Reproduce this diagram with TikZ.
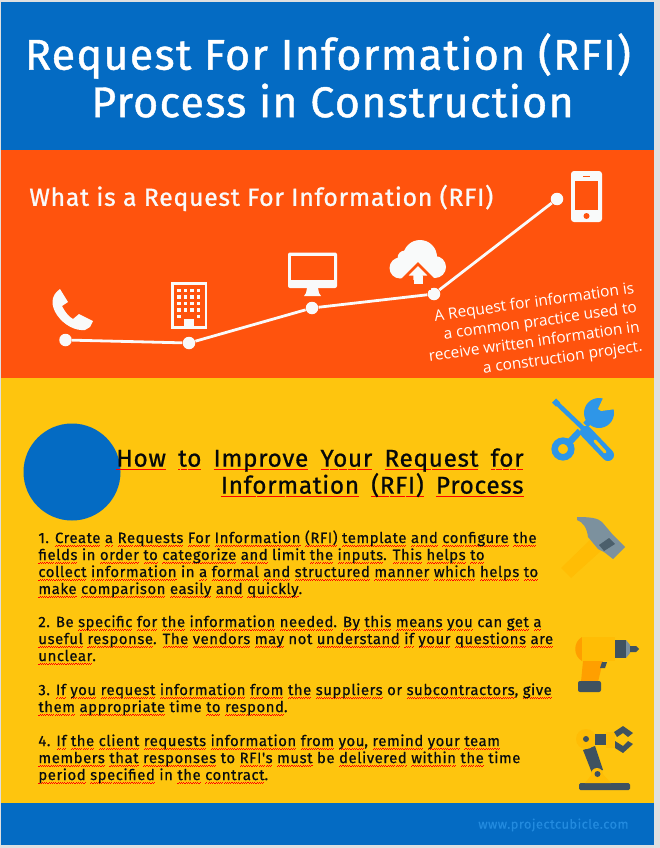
\documentclass[tikz,border=0pt]{standalone}
\usepackage{fontspec}
\setmainfont{Fira Sans}
\newfontfamily\titlefont[LetterSpace=3,FakeBold=1]{Fira Sans}
\newfontfamily\headfont[LetterSpace=3,FakeBold=0.8,WordSpace=1.7]{Fira Sans}
\newfontfamily\bodyfont[LetterSpace=3.5,FakeBold=0.45]{Fira Sans}
\newfontfamily\notefont{Open Sans}
\definecolor{rfiblue}{HTML}{046BC3}
\definecolor{rfiorange}{HTML}{FF530D}
\definecolor{rfiyellow}{HTML}{FEC50E}
\definecolor{rfiwhite}{HTML}{F9FAFA}
\definecolor{rfitool}{HTML}{2E96E8}
\definecolor{rfigrey}{HTML}{7C919E}
\definecolor{rfidark}{HTML}{3F5260}
\definecolor{rfiamber}{HTML}{FF9F00}
\definecolor{rfihandle}{HTML}{FFBD05}
\newcommand{\wv}[1]{\leavevmode\setbox0=\hbox{#1}\rlap{\lower3.4pt\hbox to\wd0{\color{red}\xleaders\hbox{\vrule height .7pt depth 0pt width 1.1pt\vrule height 1.4pt depth -.7pt width 1.1pt}\hfil}}\box0\relax}

\begin{document}
\begin{tikzpicture}[x=1pt, y=-1pt, thick,
	dot/.style={draw=none,fill=rfiwhite,circle,inner sep=0pt,minimum size=12.5pt},
	para/.style={anchor=north west,align=left,inner sep=0pt,text=black!85!rfidark,font=\bodyfont\fontsize{14.95}{17}\selectfont},
	icon/.style={fill=rfiwhite,draw=none}]
	\useasboundingbox (0,0) rectangle (660,848);
	\fill[black!12] (0,0) rectangle (660,848);
	% bands
	\fill[rfiblue] (1,2) rectangle (654,150);
	\fill[rfiorange] (1,150) rectangle (654,378);
	\fill[rfiyellow] (1,378) rectangle (654,803);
	\fill[rfiblue] (1,803) rectangle (654,845);
	\fill[rfiblue] (72,472) circle (48.5);

	\node[text=white,font=\titlefont\fontsize{43}{47.5}\selectfont,align=center,inner sep=0pt] (title) at (328,75.5) {Request For Information (RFI)\\\hspace{9pt}Process in Construction};
	\node[text=rfiwhite,font=\titlefont\fontsize{24.8}{28}\selectfont,anchor=west,inner sep=0pt] (what) at (29,198) {What is a Request For Information (RFI)};
	\node[text=white,font=\notefont\fontsize{15.4}{19.6}\selectfont,align=right,rotate=8,inner sep=0pt] (note) at (533,333) {A Request for information is\\a common practice used to\\receive written information in\\a construction project.};

	% line through the icons
	\node[dot] (1) at (65.5,340) {};
	\node[dot] (2) at (189,343) {};
	\node[dot] (3) at (312,308) {};
	\node[dot] (4) at (434,294) {};
	\node[dot] (5) at (557,199) {};
	\draw[rfiwhite,line width=2.8pt] (1) -- (2) -- (3) -- (4) -- (5);

	% handset
	\fill[icon] (60,289) .. controls (50,296) and (51,306) .. (57,315) .. controls (64,325) and (75,331) .. (85,330) -- (90,327) -- (93,321) -- (79,314) -- (73,319) .. controls (69,317) and (65,312) .. (62,306) -- (68,302) -- cycle;
	% building
	\fill[icon] (171,282) rectangle (207,328.5);
	\fill[rfiorange] (173.5,284.5) rectangle (204.5,326);
	\foreach \yy in {290.5,297,303.5,310}
		\foreach \xx in {179,185.5,192,198.5}
			\fill[icon] (\xx-1.6,\yy-1.6) rectangle (\xx+1.6,\yy+1.6);
	\fill[icon] (177.4,314.9) rectangle (180.6,318.1);
	\fill[icon] (196.9,314.9) rectangle (200.1,318.1);
	\fill[icon] (184,319) rectangle (194,327);
	% monitor
	\fill[icon,rounded corners=2pt] (288,252.5) rectangle (337,288);
	\fill[rfiorange] (291,256) rectangle (334,280);
	\fill[icon] (307,288) -- (318,288) -- (319,293) -- (321,296) -- (304,296) -- (306,293) -- cycle;
	% cloud
	\fill[icon] (420,257) circle (17);
	\fill[icon] (405,258) circle (7.5);
	\fill[icon] (400,268) circle (10.5);
	\fill[icon] (435,267) circle (11);
	\fill[icon] (400,266) rectangle (435,278);
	\filldraw[icon,draw=rfiorange,line width=2.6pt,line join=miter] (418,264) -- (431,277) -- (424,277) -- (424,285) -- (412,285) -- (412,277) -- (405,277) -- cycle;
	\fill[rfiorange] (405,280) rectangle (431,290);
	\fill[icon] (413.5,276) rectangle (422.5,283.5);
	% mobile
	\fill[icon,rounded corners=3pt] (571,171) rectangle (602,222);
	\fill[rfiorange] (575,181) rectangle (598,210);
	\fill[rfiorange] (583,175.5) rectangle (590,177);
	\fill[rfiorange] (586.5,216) circle (3);

	\node[font=\headfont\fontsize{24.3}{27}\selectfont,align=right,anchor=north east,inner sep=0pt,text=black!90!rfidark] (head) at (524,448) {\wv{How} \wv{to} \wv{Improve} \wv{Your} \wv{Request} \wv{for}\hspace{6pt}\\\wv{Information} \wv{(RFI)} \wv{Process}};

	\node[para] (step1) at (38,530) {1. \wv{Create} \wv{a} \wv{Requests} \wv{For} \wv{Information} \wv{(RFI)} \wv{template} \wv{and} \wv{configure} \wv{the}\\\wv{fields} in \wv{order} \wv{to} \wv{categorize} \wv{and} limit \wv{the} \wv{inputs}. \wv{This} \wv{helps} \wv{to}\\\wv{collect} \wv{information} in \wv{a} \wv{formal} \wv{and} \wv{structured} \wv{manner} \wv{which} \wv{helps} \wv{to}\\\wv{make} \wv{comparison} \wv{easily} \wv{and} \wv{quickly}.};
	\node[para] (step2) at (38,615) {2. Be \wv{specific} \wv{for} \wv{the} \wv{information} \wv{needed}. \wv{By} \wv{this} \wv{means} \wv{you} can \wv{get} \wv{a}\\\wv{useful} \wv{response}. \wv{The} \wv{vendors} \wv{may} not \wv{understand} \wv{if} \wv{your} \wv{questions} \wv{are}\\\wv{unclear}.};
	\node[para] (step3) at (38,683) {3. \wv{If} \wv{you} \wv{request} \wv{information} \wv{from} \wv{the} \wv{suppliers} or \wv{subcontractors}, \wv{give}\\\wv{them} \wv{appropriate} time \wv{to} \wv{respond}.};
	\node[para] (step4) at (38,734) {4. \wv{If} \wv{the} \wv{client} \wv{requests} \wv{information} \wv{from} \wv{you}, \wv{remind} \wv{your} \wv{team}\\\wv{members} \wv{that} \wv{responses} to \wv{RFI's} \wv{must} be \wv{delivered} \wv{within} \wv{the} time\\\wv{period} \wv{specified} in \wv{the} \wv{contract}.};

	\node[text=rfitool!75!rfiblue,font=\bodyfont\fontsize{12.9}{14}\selectfont,anchor=east,inner sep=0pt] (site) at (629,825) {www.projectcubicle.com};

	% tools
	\draw[rfitool,line width=6.5pt] (563,449) -- (596,414);
	\fill[rfitool] (599,413) circle (15);
	\fill[rfiyellow] (604,396) -- (598,409) -- (601,411) -- (616,409) -- (619,396) -- cycle;
	\filldraw[fill=rfiyellow,draw=rfitool,line width=6.5pt] (563,449) circle (8.3);
	\draw[rfiyellow,line width=8pt] (556,403) -- (586,431);
	\draw[rfitool,line width=4.5pt] (555,401.5) -- (586,431);
	\draw[rfitool,line width=6pt] (554,400.5) -- (558,404.5);
	\draw[rfiyellow,line width=16pt] (585,431) -- (589,435);
	\draw[rfitool,line width=12pt,line cap=round] (586,432) -- (608,455);
	\draw[rfiyellow,line width=3pt,line cap=round] (595,441) -- (605,452);
	% hammer
	\fill[rfihandle] (561,568) -- (571,578) -- (602,550) -- (590,540) -- cycle;
	\fill[rfigrey] (577,517) .. controls (590,517) and (598,518) .. (602,522) -- (613,535) -- (625,547) -- (613,559) -- (604,552) -- (598,549) -- (588,537) .. controls (587,528) and (583,522) .. (577,520) -- cycle;
	\fill[rfidark!80!rfigrey] (609,538) -- (615,544) -- (604,551) -- (599,545) -- cycle;
	% drill
	\fill[rfiamber] (582,637) .. controls (573,642) and (573,656) .. (582,661) -- cycle;
	\fill[rfihandle] (582,637) rectangle (615,661);
	\fill[rfiamber] (583,661) -- (603,661) -- (598,682) -- (581,682) -- cycle;
	\fill[rfidark] (600,668) -- (602,662) -- (607,662) -- (605,668) -- cycle;
	\fill[rfidark,rounded corners=2pt] (578,681) rectangle (601,692);
	\fill[rfidark] (615,640) rectangle (626,658);
	\fill[rfigrey] (626,640) -- (630,645) -- (630,653) -- (626,658) -- cycle;
	\fill[rfidark] (630,646) -- (636,646) -- (639,649) -- (636,652) -- (630,652) -- cycle;
	% robot
	\fill[rfidark,rounded corners=1.5pt] (579,790) -- (579,783) -- (630,783) -- (630,790) -- cycle;
	\fill[rfihandle] (585,783) -- (597,768) -- (611,783) -- cycle;
	\fill[rfidark] (583,750) -- (595,746) -- (603,770) -- (592,773) -- cycle;
	\fill[rfihandle] (597,774) circle (6);
	\fill[rfidark] (597.5,774) circle (3);
	\fill[rfihandle] (586,739) circle (10);
	\fill[rfidark] (586,739) circle (3);
	\fill[rfidark] (595,734) rectangle (606,745);
	\fill[rfihandle] (606,732) rectangle (615,748);
	\fill[rfidark] (614,732) -- (623,726) -- (633,733) -- (628,737) -- (623,733) -- (617,737) -- cycle;
	\fill[rfidark] (615,741) -- (623,746) -- (628,741) -- (633,744) -- (623,753) -- (615,748) -- cycle;
\end{tikzpicture}
\end{document}
